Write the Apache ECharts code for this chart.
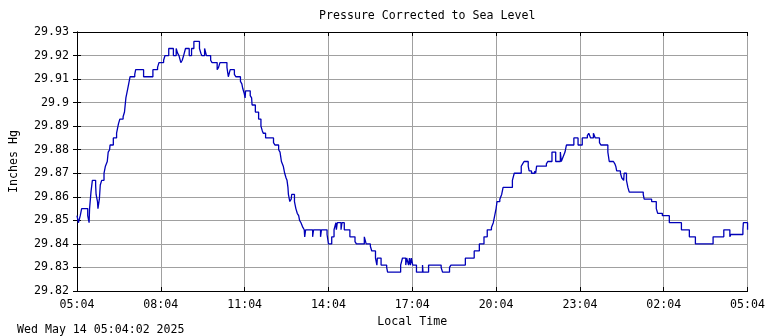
<!DOCTYPE html>
<html>
<head>
<meta charset="utf-8">
<script src="https://cdn.jsdelivr.net/npm/echarts@6/dist/echarts.min.js"></script>
<style>
html,body{margin:0;padding:0;background:#fff;}
#chart{width:768px;height:336px;}
</style>
</head>
<body>
<div id="chart"></div>
<script>
// Minutes since 05:04 at which the reading changes, and the reading (inches Hg)
const changeMinutes = [
  0,3,7,10,23,26,27,30,33,40,41,44,45,48,50,53,58,61,65,67,70,71,78,85,89,92,99,102,105,109,111,114,124,126,143,163,173,176,186,189,197,207,213,216,219,223,226,229,233,241,246,251,263,266,268,274,278,287,290,301,304,307,322,325,329,338,341,351,354,356,359,361,362,372,375,376,383,390,395,398,400,405,422,425,433,436,439,443,446,449,451,453,454,457,460,461,467,470,473,476,478,481,485,488,489,491,506,508,523,525,537,540,547,552,556,557,559,567,569,574,586,597,600,617,621,630,633,641,644,645,653,665,667,695,699,706,708,712,714,716,718,721,729,742,743,755,782,785,800,803,834,853,864,874,881,890,894,897,900,902,908,912,915,935,939,954,957,960,969,971,976,983,985,987,1008,1011,1020,1028,1038,1040,1044,1048,1051,1067,1076,1085,1096,1099,1103,1109,1113,1122,1125,1140,1143,1152,1155,1157,1159,1167,1170,1174,1175,1180,1183,1186,1216,1218,1234,1244,1247,1257,1272,1298,1315,1328,1366,1389,1402,1404,1430,1431,1440
];
const pressureValues = [
  29.852,29.849,29.852,29.855,29.852,29.849,29.855,29.862,29.867,29.865,29.861,29.858,29.855,29.859,29.865,29.867,29.870,29.873,29.875,29.879,29.880,29.882,29.885,29.887,29.891,29.893,29.894,29.896,29.902,29.906,29.908,29.911,29.912,29.914,29.911,29.914,29.915,29.917,29.918,29.920,29.923,29.920,29.923,29.921,29.920,29.917,29.918,29.920,29.923,29.920,29.923,29.926,29.923,29.921,29.920,29.923,29.920,29.918,29.917,29.914,29.915,29.917,29.915,29.911,29.914,29.912,29.911,29.909,29.908,29.906,29.904,29.902,29.905,29.903,29.902,29.899,29.896,29.893,29.890,29.888,29.887,29.885,29.883,29.882,29.880,29.879,29.875,29.873,29.870,29.868,29.867,29.864,29.861,29.858,29.859,29.861,29.858,29.855,29.853,29.852,29.850,29.849,29.847,29.846,29.843,29.846,29.843,29.846,29.843,29.846,29.844,29.840,29.843,29.846,29.849,29.846,29.849,29.846,29.849,29.846,29.843,29.841,29.840,29.843,29.840,29.839,29.837,29.834,29.831,29.834,29.831,29.830,29.828,29.831,29.834,29.831,29.834,29.831,29.834,29.831,29.834,29.831,29.828,29.831,29.828,29.831,29.830,29.828,29.830,29.831,29.834,29.837,29.840,29.843,29.846,29.847,29.849,29.852,29.855,29.858,29.859,29.861,29.864,29.867,29.870,29.873,29.874,29.875,29.873,29.871,29.870,29.871,29.870,29.873,29.874,29.875,29.879,29.875,29.879,29.875,29.877,29.879,29.882,29.885,29.882,29.885,29.886,29.887,29.885,29.887,29.885,29.883,29.882,29.879,29.875,29.875,29.874,29.873,29.871,29.870,29.868,29.867,29.870,29.867,29.864,29.862,29.861,29.859,29.858,29.855,29.853,29.852,29.849,29.846,29.843,29.840,29.843,29.846,29.843,29.844,29.846,29.849,29.846,29.846
];
const xTickLabels = ['05:04','08:04','11:04','14:04','17:04','20:04','23:04','02:04','05:04'];
const chartTitle = 'Pressure Corrected to Sea Level';
const yAxisTitle = 'Inches Hg';
const xAxisTitle = 'Local Time';
const stampText = 'Wed May 14 05:04:02 2025';

const FONT = '"DejaVu Sans Mono", "Liberation Mono", monospace';
const seriesData = changeMinutes.map((m, i) => [m, pressureValues[i]]);

const chart = echarts.init(document.getElementById('chart'), null, {renderer: 'canvas'});
const tickStyle = {show: true, inside: true, length: 4, lineStyle: {color: '#000', width: 1}};
chart.setOption({
  animation: false,
  backgroundColor: '#fff',
  title: {
    text: chartTitle, left: 319, top: 10, padding: 0,
    textStyle: {fontFamily: FONT, fontSize: 11.6, fontWeight: 'normal', color: '#000'}
  },
  grid: {left: 72, right: 20, top: 32, bottom: 45, containLabel: false},
  xAxis: [{
    type: 'value', min: 0, max: 1440, interval: 180,
    name: xAxisTitle, nameLocation: 'middle', nameGap: 22,
    nameTextStyle: {fontFamily: FONT, fontSize: 11.6, color: '#000'},
    axisLine: {show: true, lineStyle: {color: '#000', width: 1}},
    axisTick: tickStyle,
    axisLabel: {
      fontFamily: FONT, fontSize: 11.6, color: '#000', margin: 8,
      showMinLabel: true, showMaxLabel: true,
      formatter: v => xTickLabels[Math.round(v / 180)]
    },
    splitLine: {show: true, lineStyle: {color: '#a0a0a0', width: 1}}
  }, {
    type: 'value', position: 'top', min: 0, max: 1440, interval: 180,
    axisLine: {show: true, lineStyle: {color: '#000', width: 1}},
    axisTick: tickStyle, axisLabel: {show: false}, splitLine: {show: false}
  }],
  yAxis: [{
    type: 'value', min: 29.82, max: 29.93, interval: 0.01,
    name: yAxisTitle, nameLocation: 'middle', nameGap: 57, nameRotate: 90,
    nameTextStyle: {fontFamily: FONT, fontSize: 11.6, color: '#000'},
    axisLine: {show: true, lineStyle: {color: '#000', width: 1}},
    axisTick: tickStyle,
    axisLabel: {
      fontFamily: FONT, fontSize: 11.6, color: '#000', margin: 8,
      formatter: v => String(parseFloat(v.toFixed(2)))
    },
    splitLine: {show: true, lineStyle: {color: '#a0a0a0', width: 1}}
  }, {
    type: 'value', position: 'right', min: 29.82, max: 29.93, interval: 0.01,
    axisLine: {show: true, lineStyle: {color: '#000', width: 1}},
    axisTick: tickStyle, axisLabel: {show: false}, splitLine: {show: false}
  }],
  graphic: [{
    type: 'text', left: 17, top: 324,
    style: {text: stampText, font: '11.6px ' + FONT, fill: '#000'}
  }],
  series: [{
    type: 'line', xAxisIndex: 0, yAxisIndex: 0,
    data: seriesData, step: 'end', showSymbol: false, symbol: 'none',
    lineStyle: {color: '#0000b8', width: 1.3}
  }]
});
</script>
</body>
</html>
